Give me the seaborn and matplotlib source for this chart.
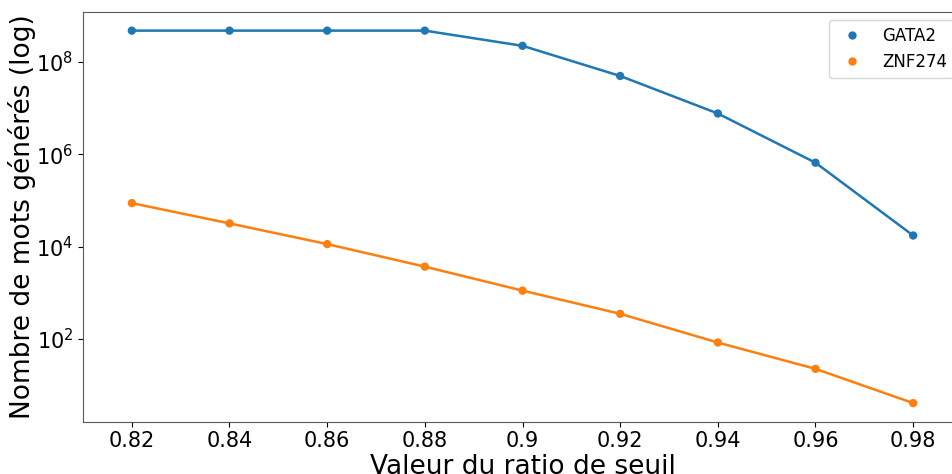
import matplotlib
matplotlib.use("Agg")
import matplotlib.pyplot as plt
import seaborn as sns
import pandas as pd

thresholds = [0.82, 0.84, 0.86, 0.88, 0.90, 0.92, 0.94, 0.96, 0.98]
tick_labels = ["0.82", "0.84", "0.86", "0.88", "0.9", "0.92", "0.94", "0.96", "0.98"]
gata2 = [4.8e8, 4.8e8, 4.8e8, 4.8e8, 2.25e8, 5.0e7, 7.7e6, 6.6e5, 1.75e4]
znf274 = [8.8e4, 3.2e4, 1.14e4, 3.7e3, 1.12e3, 352, 84, 22.6, 4.1]
series_names = ["GATA2", "ZNF274"]

df = pd.DataFrame({
    "ratio": thresholds * 2,
    "count": gata2 + znf274,
    "gene": [series_names[0]] * len(thresholds) + [series_names[1]] * len(thresholds),
})

palette = {"GATA2": "#1f77b4", "ZNF274": "#ff7f0e"}

fig = plt.figure(figsize=(9.52, 4.74), dpi=100)
ax = fig.add_axes([83 / 952, 1 - 421.7 / 474, (962 - 83) / 952, (421.7 - 12) / 474])

sns.lineplot(data=df, x="ratio", y="count", hue="gene", palette=palette,
             legend=False, linewidth=1.8, ax=ax)
sns.scatterplot(data=df, x="ratio", y="count", hue="gene", palette=palette,
                s=36, edgecolor="none", ax=ax, zorder=3)

ax.set_yscale("log")
ax.set_xlim(0.81, 0.99)
ax.set_xticks(thresholds)
ax.set_xticklabels(tick_labels)
ax.set_yticks([1e2, 1e4, 1e6, 1e8])
ax.minorticks_off()
ax.tick_params(axis="both", labelsize=15)
ax.set_xlabel("Valeur du ratio de seuil", fontsize=19, labelpad=2)
ax.set_ylabel("Nombre de mots générés (log)", fontsize=19, labelpad=0)
for sp in ax.spines.values():
    sp.set_color("0.35")

leg = ax.legend(fontsize=12, loc="upper right")
leg.set_title(None)

fig.savefig("out.png", dpi=100)
